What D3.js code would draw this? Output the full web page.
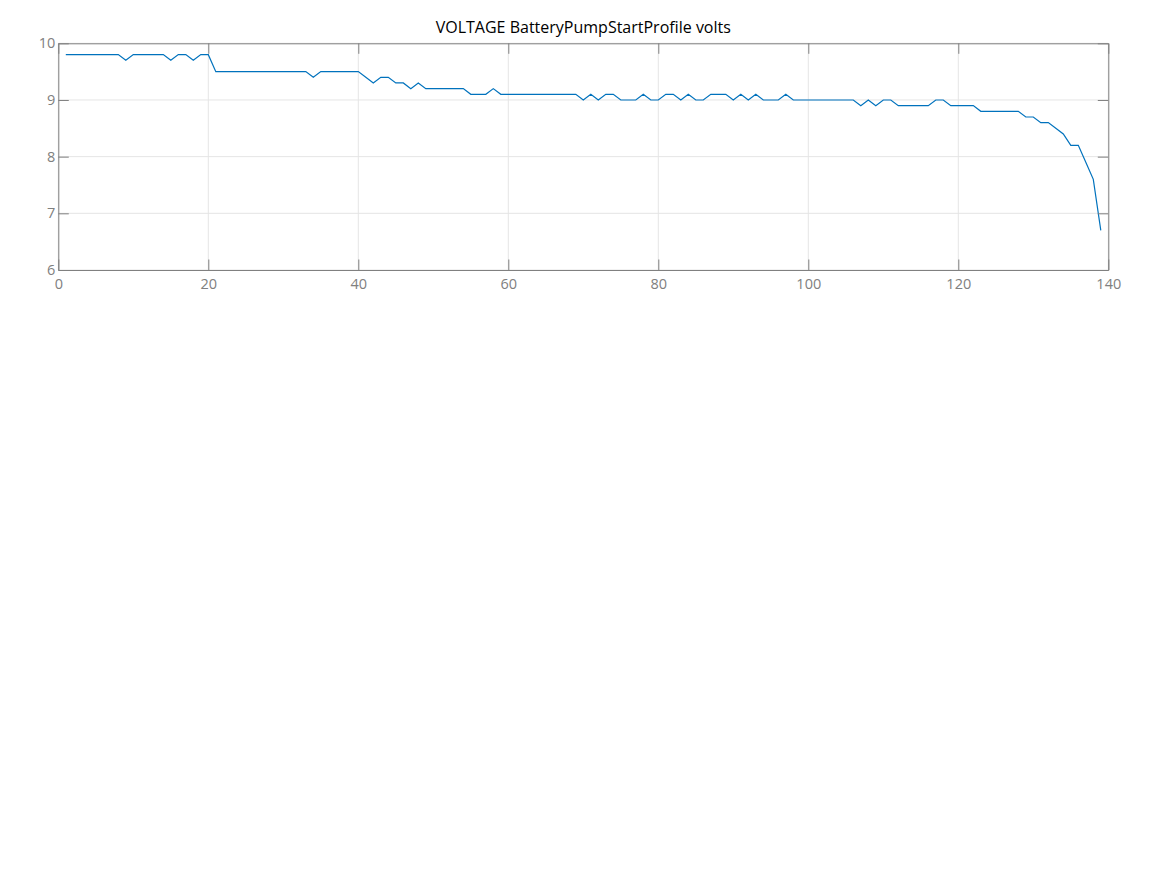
<!DOCTYPE html>
<html>
<head>
<meta charset="utf-8">
<script src="https://cdn.jsdelivr.net/npm/d3@7"></script>
<style>
  body { margin: 0; background: #fff; }
  svg { display: block; font-family: "Open Sans", sans-serif; }
</style>
</head>
<body>
<svg id="chart" width="1167" height="875"></svg>
<script>
var title = "VOLTAGE BatteryPumpStartProfile volts";

// sample index 1..139
var volts = [
  9.8, 9.8, 9.8, 9.8, 9.8, 9.8, 9.8, 9.8, 9.7, 9.8,
  9.8, 9.8, 9.8, 9.8, 9.7, 9.8, 9.8, 9.7, 9.8, 9.8,
  9.5, 9.5, 9.5, 9.5, 9.5, 9.5, 9.5, 9.5, 9.5, 9.5,
  9.5, 9.5, 9.5, 9.4, 9.5, 9.5, 9.5, 9.5, 9.5, 9.5,
  9.4, 9.3, 9.4, 9.4, 9.3, 9.3, 9.2, 9.3, 9.2, 9.2,
  9.2, 9.2, 9.2, 9.2, 9.1, 9.1, 9.1, 9.2, 9.1, 9.1,
  9.1, 9.1, 9.1, 9.1, 9.1, 9.1, 9.1, 9.1, 9.1, 9.0,
  9.1, 9.0, 9.1, 9.1, 9.0, 9.0, 9.0, 9.1, 9.0, 9.0,
  9.1, 9.1, 9.0, 9.1, 9.0, 9.0, 9.1, 9.1, 9.1, 9.0,
  9.1, 9.0, 9.1, 9.0, 9.0, 9.0, 9.1, 9.0, 9.0, 9.0,
  9.0, 9.0, 9.0, 9.0, 9.0, 9.0, 8.9, 9.0, 8.9, 9.0,
  9.0, 8.9, 8.9, 8.9, 8.9, 8.9, 9.0, 9.0, 8.9, 8.9,
  8.9, 8.9, 8.8, 8.8, 8.8, 8.8, 8.8, 8.8, 8.7, 8.7,
  8.6, 8.6, 8.5, 8.4, 8.2, 8.2, 7.9, 7.6, 6.7
];

var xTicks = [0, 20, 40, 60, 80, 100, 120, 140];
var yTicks = [6, 7, 8, 9, 10];

var svg = d3.select("#chart");
var plotL = 58.3, plotR = 1108.3, plotT = 43.3, plotB = 270;
var tickLen = 10.5;
var axisColor = "#808080";

var x = d3.scaleLinear().domain([0, 140]).range([plotL, plotR]);
var y = d3.scaleLinear().domain([6, 10]).range([plotB, plotT]);

var data = volts.map(function (v, i) { return { i: i + 1, v: v }; });

// grid
var grid = svg.append("g").attr("stroke", "#e5e5e5").attr("stroke-width", 1);
grid.selectAll("line.gx").data(xTicks).enter().append("line")
  .attr("x1", function (d) { return x(d); }).attr("x2", function (d) { return x(d); })
  .attr("y1", plotT).attr("y2", plotB);
grid.selectAll("line.gy").data(yTicks).enter().append("line")
  .attr("x1", plotL).attr("x2", plotR)
  .attr("y1", function (d) { return y(d); }).attr("y2", function (d) { return y(d); });

// line
var line = d3.line()
  .x(function (d) { return x(d.i); })
  .y(function (d) { return y(d.v); });

svg.append("path")
  .datum(data)
  .attr("fill", "none")
  .attr("stroke", "#0072bd")
  .attr("stroke-width", 1.2)
  .attr("d", line);

// axes: ticks point inward, box around plot
function styleAxis(g) {
  g.selectAll(".domain").attr("stroke", axisColor);
  g.selectAll(".tick line").attr("stroke", axisColor);
  g.selectAll(".tick text").attr("fill", axisColor).attr("font-size", 14.5)
    .attr("font-family", "'Open Sans', sans-serif");
}

svg.append("g")
  .attr("transform", "translate(0," + plotB + ")")
  .call(d3.axisBottom(x).tickValues(xTicks).tickSizeInner(-tickLen).tickSizeOuter(0).tickPadding(9))
  .call(styleAxis);

svg.append("g")
  .attr("transform", "translate(0," + plotT + ")")
  .call(d3.axisTop(x).tickValues(xTicks).tickSizeInner(-tickLen).tickSizeOuter(0).tickFormat(""))
  .call(styleAxis);

svg.append("g")
  .attr("transform", "translate(" + plotL + ",0)")
  .call(d3.axisLeft(y).tickValues(yTicks).tickFormat(d3.format("d")).tickSizeInner(-tickLen).tickSizeOuter(0).tickPadding(3))
  .call(styleAxis);

svg.append("g")
  .attr("transform", "translate(" + plotR + ",0)")
  .call(d3.axisRight(y).tickValues(yTicks).tickSizeInner(-tickLen).tickSizeOuter(0).tickFormat(""))
  .call(styleAxis);

svg.append("text")
  .attr("x", (plotL + plotR) / 2)
  .attr("y", 33)
  .attr("text-anchor", "middle")
  .attr("font-size", 16)
  .attr("fill", "#000")
  .text(title);
</script>
</body>
</html>
